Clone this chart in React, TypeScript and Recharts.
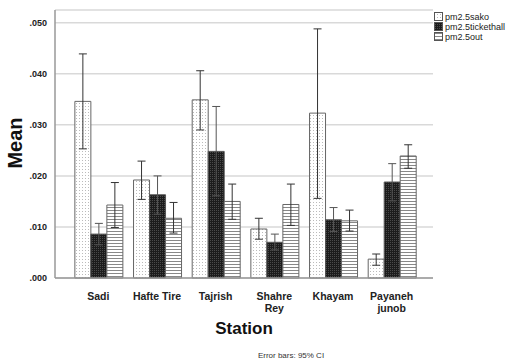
import { BarChart, Bar, XAxis, YAxis, CartesianGrid, ErrorBar } from 'recharts';

const stations = ['Sadi', 'Hafte Tire', 'Tajrish', 'Shahre\nRey', 'Khayam', 'Payaneh\njunob'];

const sako = [0.0346, 0.0192, 0.0349, 0.0096, 0.0323, 0.0037];
const sakoLow = [0.0253, 0.0154, 0.029, 0.0076, 0.0156, 0.0025];
const sakoHigh = [0.0439, 0.0229, 0.0406, 0.0117, 0.0488, 0.0047];

const ticket = [0.0086, 0.0163, 0.0248, 0.007, 0.0114, 0.0188];
const ticketLow = [0.0065, 0.0125, 0.0161, 0.0055, 0.0091, 0.0151];
const ticketHigh = [0.0107, 0.02, 0.0336, 0.0086, 0.0138, 0.0224];

const out = [0.0143, 0.0117, 0.015, 0.0144, 0.0112, 0.0239];
const outLow = [0.0099, 0.0088, 0.0115, 0.0103, 0.0092, 0.0215];
const outHigh = [0.0187, 0.0148, 0.0184, 0.0184, 0.0133, 0.0261];

const yTicks = [0, 0.01, 0.02, 0.03, 0.04, 0.05];

const data = stations.map((s, i) => ({
  station: s,
  sako: sako[i],
  sakoErr: [sako[i] - sakoLow[i], sakoHigh[i] - sako[i]],
  ticket: ticket[i],
  ticketErr: [ticket[i] - ticketLow[i], ticketHigh[i] - ticket[i]],
  out: out[i],
  outErr: [out[i] - outLow[i], outHigh[i] - out[i]],
}));

const legendItems = [
  { name: 'pm2.5sako', fill: 'url(#dotsL)' },
  { name: 'pm2.5tickethall', fill: 'url(#darkL)' },
  { name: 'pm2.5out', fill: 'url(#stripesL)' },
];

const font = 'Arial, "Liberation Sans", sans-serif';

function StationTick({ x, y, payload }: any) {
  const lines = String(payload.value).split('\n');
  return (
    <text x={x} y={y + 14} textAnchor="middle" fontFamily={font} fontSize={10.5} fontWeight="bold" fill="#222">
      {lines.map((l, i) => (
        <tspan key={i} x={x} dy={i === 0 ? 0 : 12}>{l}</tspan>
      ))}
    </text>
  );
}

function Patterns({ suffix }: { suffix: string }) {
  return (
    <defs>
      <pattern id={'dots' + suffix} width="3" height="3" patternUnits="userSpaceOnUse">
        <rect width="3" height="3" fill="#fff" />
        <rect x="1" y="1" width="1" height="1" fill="#bbb" />
      </pattern>
      <pattern id={'dark' + suffix} width="2" height="2" patternUnits="userSpaceOnUse">
        <rect width="2" height="2" fill="#1c1c1c" />
        <rect x="0" y="0" width="1" height="1" fill="#4a4a4a" />
      </pattern>
      <pattern id={'stripes' + suffix} width="3" height="3" patternUnits="userSpaceOnUse">
        <rect width="3" height="3" fill="#fff" />
        <rect x="0" y="0" width="3" height="1" fill="#888" />
      </pattern>
    </defs>
  );
}

function LegendBox() {
  return (
    <svg width={75} height={36} style={{ position: 'absolute', left: 433, top: 10 }}>
      <Patterns suffix="L" />
      {legendItems.map((it, i) => (
        <g key={it.name} transform={`translate(0, ${i * 10})`}>
          <rect x={1.5} y={2.5} width={8} height={8} fill={it.fill} stroke="#555" />
          <text x={12} y={10} fontFamily={font} fontSize={9} fill="#222">{it.name}</text>
        </g>
      ))}
    </svg>
  );
}

export default function App() {
  return (
    <div style={{ position: 'absolute', left: 0, top: 0, width: 506, height: 362, background: '#fff', fontFamily: font }}>
      <BarChart
        width={506}
        height={362}
        data={data}
        margin={{ top: 10, right: 73, left: 0, bottom: 0 }}
        barCategoryGap="10%"
        barGap={0}
      >
        <Patterns suffix="" />
        <CartesianGrid vertical={false} stroke="#d9d9d9" strokeWidth={1.5} />
        <XAxis
          dataKey="station"
          height={84}
          padding={{ left: 14, right: 12 }}
          tickLine={false}
          axisLine={{ stroke: '#999', strokeWidth: 1.5 }}
          tick={<StationTick />}
          interval={0}
        />
        <YAxis
          width={55}
          domain={[0, 0.0525]}
          ticks={yTicks}
          tickLine={false}
          axisLine={{ stroke: '#999', strokeWidth: 1.5 }}
          tickFormatter={(v: number) => v.toFixed(3).replace(/^0/, '')}
          tick={{ fontFamily: font, fontSize: 9, fontWeight: 'bold', fill: '#222' }}
        />
        <Bar dataKey="sako" name="pm2.5sako" fill="url(#dots)" stroke="#666" strokeWidth={1} isAnimationActive={false}>
          <ErrorBar dataKey="sakoErr" width={4} stroke="#333" strokeWidth={1} />
        </Bar>
        <Bar dataKey="ticket" name="pm2.5tickethall" fill="url(#dark)" stroke="#555" strokeWidth={1} isAnimationActive={false}>
          <ErrorBar dataKey="ticketErr" width={4} stroke="#555" strokeWidth={1} />
        </Bar>
        <Bar dataKey="out" name="pm2.5out" fill="url(#stripes)" stroke="#666" strokeWidth={1} isAnimationActive={false}>
          <ErrorBar dataKey="outErr" width={4} stroke="#333" strokeWidth={1} />
        </Bar>
      </BarChart>
      <LegendBox />
      <div
        style={{
          position: 'absolute',
          left: 15,
          top: 143,
          transform: 'translate(-50%, -50%) rotate(-90deg)',
          fontSize: 20,
          fontWeight: 'bold',
          color: '#111',
          whiteSpace: 'nowrap',
          lineHeight: 1,
        }}
      >
        Mean
      </div>
      <div
        style={{
          position: 'absolute',
          left: 244,
          top: 328,
          transform: 'translate(-50%, -50%)',
          fontSize: 17,
          fontWeight: 'bold',
          color: '#111',
          lineHeight: 1,
        }}
      >
        Station
      </div>
      <div
        style={{
          position: 'absolute',
          left: 291,
          top: 356,
          transform: 'translate(-50%, -50%)',
          fontSize: 8,
          color: '#333',
          whiteSpace: 'nowrap',
          lineHeight: 1,
        }}
      >
        Error bars: 95% CI
      </div>
    </div>
  );
}
